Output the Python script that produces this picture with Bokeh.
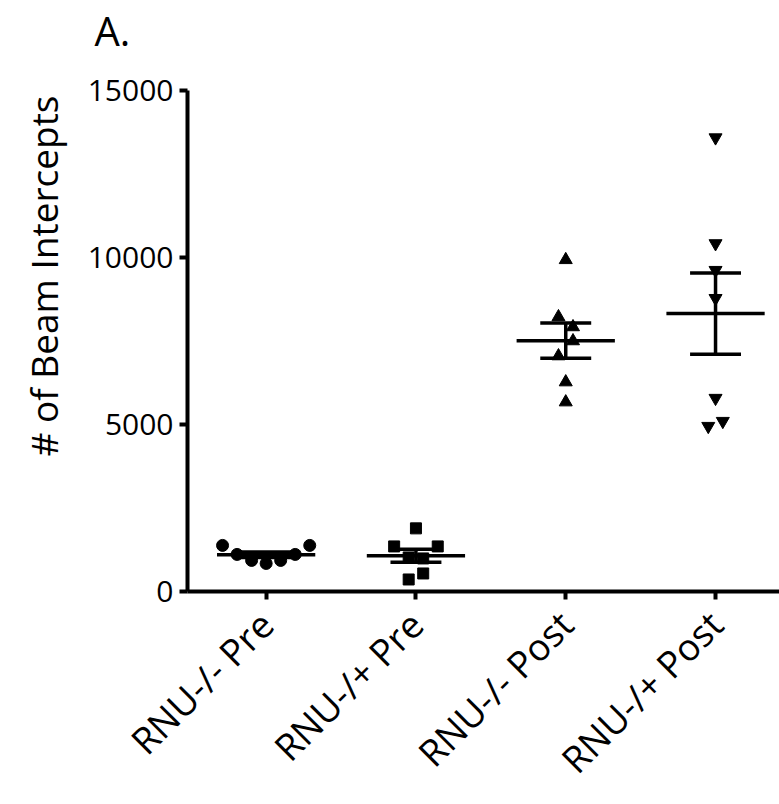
import numpy as np
from math import pi
from bokeh.plotting import figure
from bokeh.models import Range1d, FixedTicker, Title
from bokeh.embed import file_html
from bokeh.resources import INLINE

# ---- data ----
categories = ["RNU-/- Pre", "RNU-/+ Pre", "RNU-/- Post", "RNU-/+ Post"]
rnu_mm_pre = [1380, 1110, 930, 840, 930, 1110, 1380]
rnu_mp_pre = [1890, 1350, 1020, 990, 1350, 360, 540]
rnu_mm_post = [9930, 8220, 7920, 7050, 7500, 6270, 5670]
rnu_mp_post = [13590, 10420, 9620, 8780, 5790, 4950, 5100]
groups = [rnu_mm_pre, rnu_mp_pre, rnu_mm_post, rnu_mp_post]
markers = ["circle", "square", "triangle", "inverted_triangle"]
marker_sizes = [12, 11, 13, 13]
y_ticks = [0, 5000, 10000, 15000]

FONT = "Open Sans"
STEP = 0.097        # horizontal spread between neighbouring points
CLUSTER = 550       # values closer than this are spread side by side
HALF_MEAN = 0.328
HALF_CAP = 0.17


def spread(values):
    """Scatter-dot-plot spreading: cluster close values, spread them in list order."""
    vals = np.asarray(values, dtype=float)
    order = np.argsort(vals, kind="stable")
    offsets = np.zeros(len(vals))
    clusters = []
    cur = [order[0]]
    for idx in order[1:]:
        if vals[idx] - vals[cur[0]] <= CLUSTER:
            cur.append(idx)
        else:
            clusters.append(cur)
            cur = [idx]
    clusters.append(cur)
    for c in clusters:
        c = sorted(c)
        n = len(c)
        for k, idx in enumerate(c):
            offsets[idx] = (k - (n - 1) / 2) * STEP
    return offsets


p = figure(width=779, height=804,
           x_range=Range1d(0.475, 4.427), y_range=Range1d(0, 15000),
           output_backend="svg", toolbar_location=None,
           min_border_left=179, min_border_right=0,
           min_border_top=90, min_border_bottom=213)
p.outline_line_color = None
p.xgrid.grid_line_color = None
p.ygrid.grid_line_color = None
p.background_fill_color = "white"
p.border_fill_color = "white"

for i, (vals, mk, ms) in enumerate(zip(groups, markers, marker_sizes)):
    pos = i + 1
    xs = pos + spread(vals)
    p.scatter(xs, vals, marker=mk, size=ms, fill_color="black", line_color="black")
    arr = np.asarray(vals, dtype=float)
    m = arr.mean()
    sem = arr.std(ddof=1) / np.sqrt(len(arr))
    p.segment(x0=[pos - HALF_MEAN], x1=[pos + HALF_MEAN], y0=[m], y1=[m],
              line_color="black", line_width=3.5)
    p.segment(x0=[pos, pos - HALF_CAP, pos - HALF_CAP],
              x1=[pos, pos + HALF_CAP, pos + HALF_CAP],
              y0=[m - sem, m + sem, m - sem], y1=[m + sem, m + sem, m - sem],
              line_color="black", line_width=3.5)

for ax in (p.xaxis[0], p.yaxis[0]):
    ax.axis_line_width = 4
    ax.axis_line_color = "black"
    ax.major_tick_line_width = 4
    ax.major_tick_line_color = "black"
    ax.major_tick_out = 8
    ax.major_tick_in = 0
    ax.minor_tick_line_color = None
    ax.major_label_text_font = FONT
    ax.major_label_text_color = "black"

p.yaxis.ticker = FixedTicker(ticks=y_ticks)
p.yaxis.major_label_text_font_size = "30px"
p.yaxis.major_label_standoff = 6

p.xaxis.ticker = FixedTicker(ticks=list(range(1, len(categories) + 1)))
p.xaxis.major_label_overrides = {i + 1: c for i, c in enumerate(categories)}
p.xaxis.major_label_orientation = pi / 4
p.xaxis.major_label_text_font_size = "37px"
p.xaxis.major_label_standoff = 18

# spacer between the frame and the panel letter
p.add_layout(Title(text=" ", text_font_size="12px", standoff=13), "above")

p.title.text = "A."
p.title.align = "left"
p.title.vertical_align = "top"
p.title.offset = -93
p.title.standoff = 4
p.title.text_font = FONT
p.title.text_font_size = "40px"
p.title.text_font_style = "normal"
p.title.text_color = "black"

p.add_layout(Title(text="# of Beam Intercepts", align="right", offset=5,
                   standoff=31,
                   text_font=FONT, text_font_size="37px",
                   text_font_style="normal", text_color="black"), "left")

open("out.html", "w").write(file_html(p, INLINE))
